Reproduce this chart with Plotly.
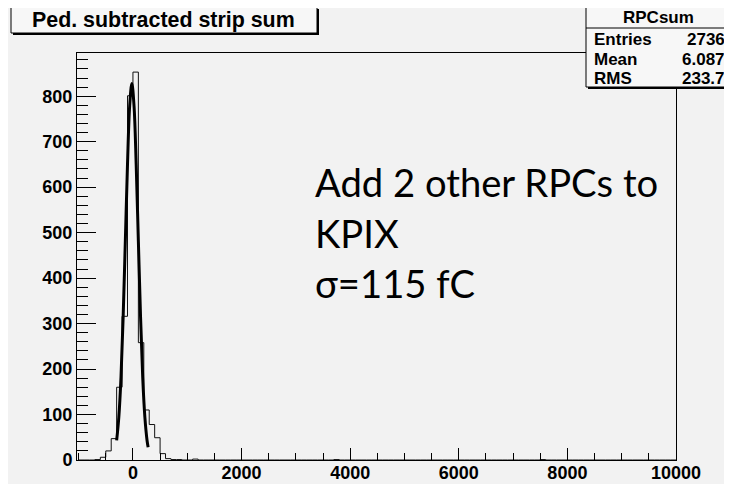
import plotly.graph_objects as go

# ---- data ----
bin_width = 100
hist_range = [-1000, 10000]
bin_low_edges = [-700, -600, -500, -400, -300, -200, -100, 0, 100, 200, 300, 400, 500, 600, 700, 800, 1100, 3700, 7500]
bin_counts =    [1,    6,    20,   47,   160,  316,  801,  853, 258, 110, 78,  49,  14,  3,   1,   1,   2,    1,    1]

fit_x = [-300, -260, -220, -180, -140, -100, -60, -20, 20, 60, 100, 140, 180, 220, 260, 280]
fit_y = [43,   94,   182,  315,  481,  650,  779, 828, 779, 650, 481, 315, 182, 94, 43, 28]

x_ticks = [0, 2000, 4000, 6000, 8000, 10000]
x_tick_labels = ["0", "2000", "4000", "6000", "8000", "10000"]
y_ticks = [0, 100, 200, 300, 400, 500, 600, 700, 800]
y_tick_labels = ["0", "100", "200", "300", "400", "500", "600", "700", "800"]

title_text = "Ped. subtracted strip sum"
stats_name = "RPCsum"
stats_labels = ["Entries", "Mean", "RMS"]
stats_values = ["2736", "6.087", "233.7"]
note_lines = ["Add 2 other RPCs to", "KPIX", "σ=115 fC"]

# ---- geometry (page has an 8px body margin, compensate) ----
OFF = 8
PAGE_W, PAGE_H = 732, 484
W, H = PAGE_W - OFF, PAGE_H - OFF
L, R, T, B = 77 - OFF, 56, 53 - OFF, 24
PW, PH = W - L - R, H - T - B


def px(x):  # x in page pixels of the reference
    return (x - OFF - L) / PW


def py(y):  # y in page pixels of the reference
    return (H - B - (y - OFF)) / PH


# build step outline from the bins
counts_by_edge = dict(zip(bin_low_edges, bin_counts))
n_bins = (hist_range[1] - hist_range[0]) // bin_width
step_x, step_y = [], []
for i in range(n_bins):
    e = hist_range[0] + i * bin_width
    step_x.append(e)
    step_y.append(counts_by_edge.get(e, 0))
step_x.append(hist_range[1])
step_y.append(0)

fig = go.Figure()
fig.add_trace(go.Scatter(x=step_x, y=step_y, mode="lines", line=dict(shape="hv", color="#111", width=1),
                         hoverinfo="skip", showlegend=False))
fig.add_trace(go.Scatter(x=fit_x, y=fit_y, mode="lines", line=dict(shape="spline", color="black", width=3),
                         hoverinfo="skip", showlegend=False))

FONT = "Liberation Sans, Arial, Helvetica, sans-serif"
axis_common = dict(showline=True, linecolor="black", linewidth=1, mirror=True, showgrid=False,
                   zeroline=False, ticks="inside", tickcolor="black", tickwidth=1,
                   tickfont=dict(family=FONT, size=18, color="black", weight="bold"))

fig.update_xaxes(range=[-1030, 10000], tickmode="array", tickvals=x_ticks, ticktext=x_tick_labels, ticklen=12,
                 ticklabelstandoff=-4,
                 minor=dict(dtick=500, tick0=0, ticklen=7, ticks="inside", tickcolor="black", tickwidth=1),
                 **axis_common)
fig.update_yaxes(range=[0, 895], tickmode="array", tickvals=y_ticks, ticktext=y_tick_labels, ticklen=19,
                 minor=dict(dtick=20, tick0=0, ticklen=11, ticks="inside", tickcolor="black", tickwidth=1),
                 **axis_common)

shapes = []
# grey canvas
shapes.append(dict(type="rect", xref="paper", yref="paper", x0=px(7), x1=px(PAGE_W + 5), y0=py(8),
                   y1=py(PAGE_H + 5), fillcolor="#f2f2f2", line=dict(width=0), layer="below"))


def boxed(x0, y0, x1, y1):
    shapes.append(dict(type="rect", xref="paper", yref="paper", x0=px(x0 + 2), x1=px(x1 + 2),
                       y0=py(y0 + 2), y1=py(y1 + 2), fillcolor="black", line=dict(width=0), layer="above"))
    shapes.append(dict(type="rect", xref="paper", yref="paper", x0=px(x0), x1=px(x1),
                       y0=py(y0), y1=py(y1), fillcolor="#f7f7f7", line=dict(color="black", width=1),
                       layer="above"))


boxed(11, 7, 317, 33)
boxed(586, 7, 729, 87)
shapes.append(dict(type="line", xref="paper", yref="paper", x0=px(586), x1=px(729), y0=py(28), y1=py(28),
                   line=dict(color="black", width=1), layer="above"))

annotations = []
annotations.append(dict(text=title_text, xref="paper", yref="paper", x=px(163), y=py(20), xanchor="center",
                        yanchor="middle", showarrow=False,
                        font=dict(family=FONT, size=21.4, color="black", weight="bold")))
annotations.append(dict(text=stats_name, xref="paper", yref="paper", x=px(658), y=py(17.5), xanchor="center",
                        yanchor="middle", showarrow=False,
                        font=dict(family=FONT, size=17, color="black", weight="bold")))
for lab, val, yc in zip(stats_labels, stats_values, [39, 59, 79]):
    annotations.append(dict(text=lab, xref="paper", yref="paper", x=px(592), y=py(yc), xanchor="left",
                            yanchor="middle", showarrow=False,
                            font=dict(family=FONT, size=17, color="black", weight="bold")))
    annotations.append(dict(text=val, xref="paper", yref="paper", x=px(727), y=py(yc), xanchor="right",
                            yanchor="middle", showarrow=False,
                            font=dict(family=FONT, size=17, color="black", weight="bold")))

for line, yc in zip(note_lines, [182, 233, 283]):
    annotations.append(dict(text=line, xref="paper", yref="paper", x=px(313), y=py(yc), xanchor="left",
                            yanchor="middle", showarrow=False,
                            font=dict(family="Lato, Carlito, Open Sans, sans-serif", size=38.2, color="black")))

fig.update_layout(width=W, height=H, margin=dict(l=L, r=R, t=T, b=B, pad=0, autoexpand=False),
                  paper_bgcolor="white", plot_bgcolor="#f2f2f2", shapes=shapes, annotations=annotations,
                  showlegend=False)

fig.write_html("out.html")
